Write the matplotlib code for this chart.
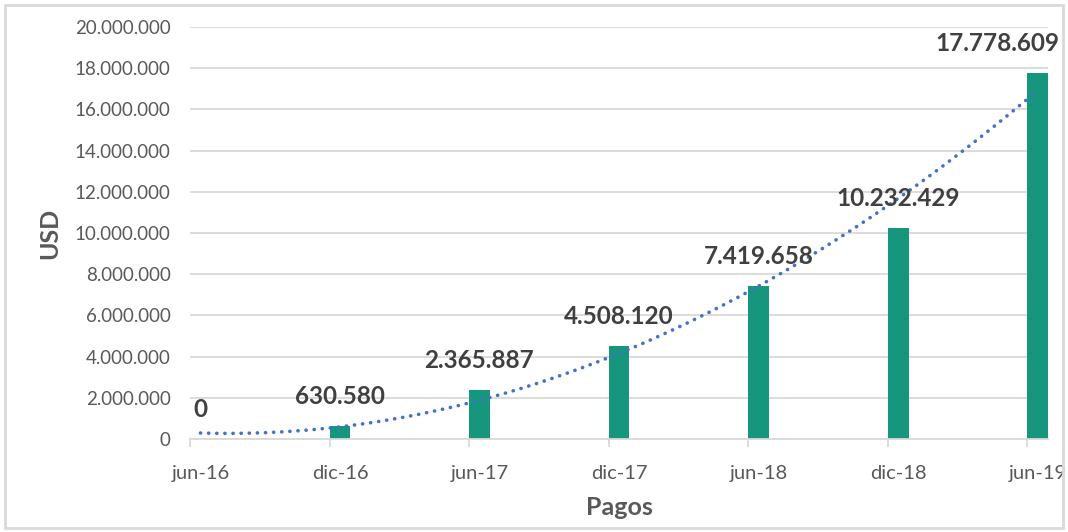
import numpy as np
import matplotlib
matplotlib.use("Agg")
import matplotlib.pyplot as plt
from matplotlib.patches import Rectangle
from matplotlib.ticker import FuncFormatter, FixedLocator

# data
periods = ["jun-16", "dic-16", "jun-17", "dic-17", "jun-18", "dic-18", "jun-19"]
pagos = [0, 630580, 2365887, 4508120, 7419658, 10232429, 17778609]

BAR_COLOR = "#16967C"
TREND_COLOR = "#4472C4"
GRID = "#D9D9D9"
TICK_TXT = "#595959"
LABEL_TXT = "#404040"

plt.rcParams["font.family"] = ["Lato", "DejaVu Sans"]


def miles(v, pos=None):
    return f"{int(round(v)):,}".replace(",", ".")


fig = plt.figure(figsize=(10.68, 5.32), dpi=100)
fig.patches.append(Rectangle((0.005, 0.008), 0.99, 0.982, transform=fig.transFigure,
                             fill=False, edgecolor=GRID, linewidth=2))
ax = fig.add_axes([0.1779, 0.1748, 0.8034, 0.7744])

x = np.arange(len(periods))
w = 0.15
ax.bar(x, pagos, width=w, color=BAR_COLOR, zorder=2)

# polynomial (order 2) trendline like Excel's
coef = np.polyfit(x, pagos, 2)
xs = np.linspace(x[0], x[-1], 200)
ax.plot(xs, np.polyval(coef, xs), color=TREND_COLOR, linewidth=2.6,
        linestyle=(0, (0.05, 2.2)), dash_capstyle="round", zorder=3)

# data labels
for i, v in enumerate(pagos):
    if i == len(pagos) - 1:
        ax.annotate(miles(v), (x[i] + w / 2, v), xytext=(8, 13), textcoords="offset points",
                    ha="right", va="bottom", fontsize=17.5, fontweight="bold", color=LABEL_TXT)
    else:
        ax.annotate(miles(v), (x[i], v), xytext=(0, 13), textcoords="offset points",
                    ha="center", va="bottom", fontsize=17.5, fontweight="bold", color=LABEL_TXT)

ax.set_xlim(x[0] - w / 2, x[-1] + w / 2)
ax.set_ylim(0, 20000000)
ax.set_yticks(np.arange(0, 20000001, 2000000))
ax.yaxis.set_major_formatter(FuncFormatter(miles))
ax.grid(axis="y", color=GRID, linewidth=1.3, zorder=0)

ax.set_xticks(x)
ax.set_xticklabels(periods)
ax.xaxis.set_minor_locator(FixedLocator(x - w / 2))
ax.tick_params(axis="x", which="major", length=0, pad=19, labelsize=14.5, labelcolor=TICK_TXT)
ax.tick_params(axis="x", which="minor", length=6, width=1.3, color=GRID)
ax.tick_params(axis="y", length=0, pad=14, labelsize=13.5, labelcolor=TICK_TXT)

for s in ["top", "right", "left"]:
    ax.spines[s].set_visible(False)
ax.spines["bottom"].set_color(GRID)
ax.spines["bottom"].set_linewidth(1.3)

ax.set_ylabel("USD", fontsize=18, fontweight="bold", color=TICK_TXT, labelpad=10)
ax.set_xlabel("Pagos", fontsize=18, fontweight="bold", color=TICK_TXT, labelpad=10)
for lbl in ax.get_xticklabels():
    lbl.set_clip_on(False)

fig.savefig("out.png", dpi=100)
